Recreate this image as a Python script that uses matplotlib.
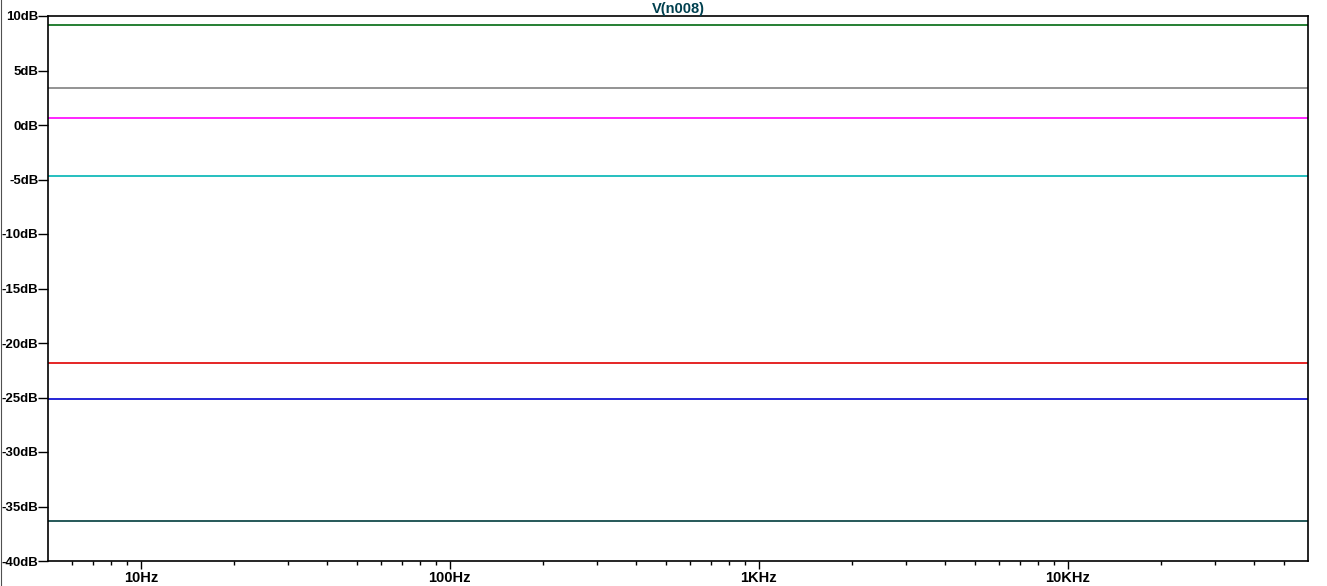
import matplotlib.pyplot as plt
from matplotlib.ticker import FixedLocator, NullFormatter
from matplotlib.lines import Line2D

# Sweep range (Hz) and the flat level of each trace (dB)
freq_hz = [5, 60000]
trace_levels = {
    "green": [9.15, 9.15],
    "gray": [3.37, 3.37],
    "magenta": [0.61, 0.61],
    "cyan": [-4.71, -4.71],
    "red": [-21.85, -21.85],
    "blue": [-25.12, -25.12],
    "teal": [-36.35, -36.35],
}
trace_colors = {
    "green": "#006a10",
    "gray": "#808080",
    "magenta": "#ff00ff",
    "cyan": "#00b4b4",
    "red": "#e00000",
    "blue": "#0000d0",
    "teal": "#003c3c",
}

y_ticks = [-40, -35, -30, -25, -20, -15, -10, -5, 0, 5, 10]
x_major = [10, 100, 1000, 10000]
x_major_labels = ["10Hz", "100Hz", "1KHz", "10KHz"]
title = "V(n008)"

plt.rcParams['font.family'] = ['Liberation Sans', 'DejaVu Sans']
plt.rcParams['font.weight'] = 'bold'

fig = plt.figure(figsize=(13.27, 5.86), dpi=100)
ax = fig.add_axes([48 / 1327, 1 - 561 / 586, 1260 / 1327, 545 / 586])

for name, levels in trace_levels.items():
    ax.plot(freq_hz, levels, color=trace_colors[name], linewidth=1.2)

ax.set_xscale('log')
ax.set_xlim(freq_hz[0], freq_hz[-1])
ax.set_ylim(-40, 10)

# plain hyphen, like the simulator's labels
ax.set_yticks(y_ticks)
ax.set_yticklabels([f"{v}dB" for v in y_ticks], fontsize=9.5, fontweight='bold')
ax.set_xticks(x_major)
ax.set_xticklabels(x_major_labels, fontsize=10.5, fontweight='bold')

minor = []
for dec in [1, 10, 100, 1000, 10000]:
    for m in range(2, 10):
        f = m * dec
        if freq_hz[0] < f < freq_hz[-1]:
            minor.append(f)
ax.xaxis.set_minor_locator(FixedLocator(minor))
ax.xaxis.set_minor_formatter(NullFormatter())
ax.yaxis.set_minor_locator(FixedLocator([]))

ax.tick_params(axis='y', which='major', length=7, width=1, pad=0, direction='out')
ax.tick_params(axis='x', which='major', length=5.5, width=1, pad=2, direction='out')
ax.tick_params(axis='x', which='minor', length=3, width=1, direction='out')

for sp in ax.spines.values():
    sp.set_linewidth(1.2)
    sp.set_color('black')

ax.set_title(title, color='#00404f', fontsize=10.5, fontweight='bold', pad=2)

# dark window edge on the left
fig.add_artist(Line2D([0.0004, 0.0004], [0, 1], transform=fig.transFigure,
                      color='#505050', linewidth=0.8))

fig.savefig("out.png", dpi=100)
